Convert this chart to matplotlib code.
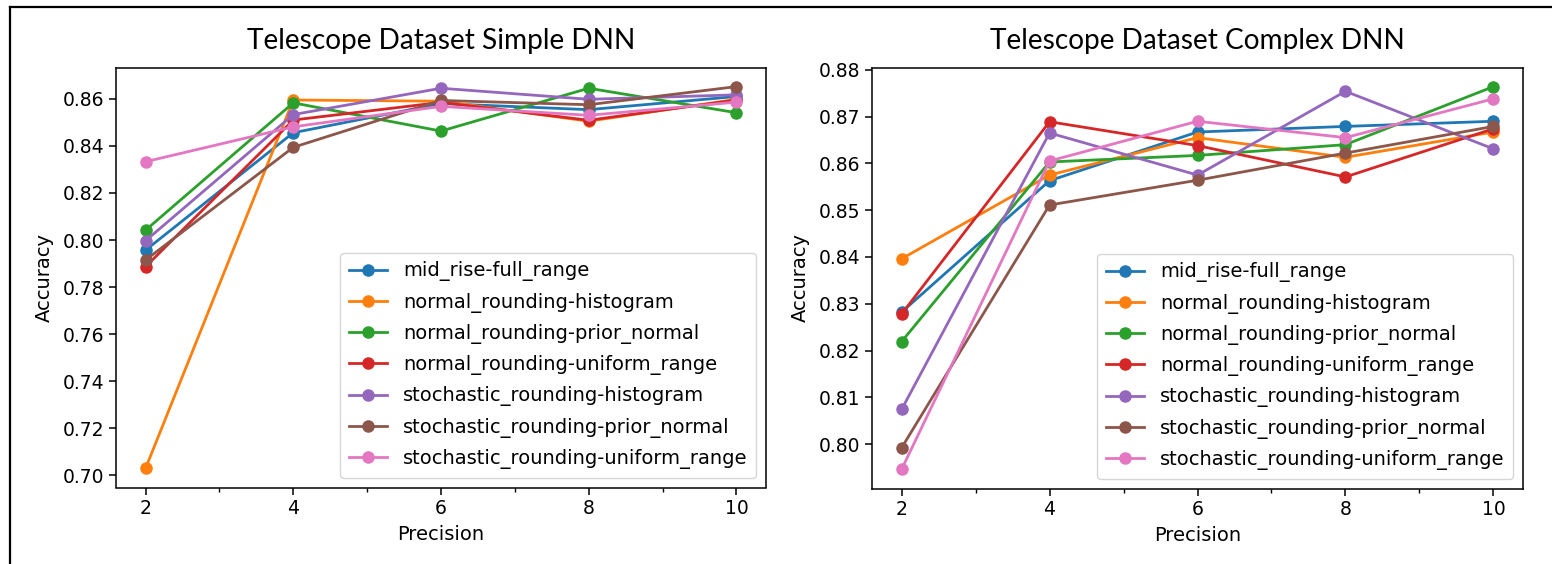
import matplotlib
matplotlib.use("Agg")
import matplotlib.pyplot as plt
from matplotlib.lines import Line2D
from matplotlib.ticker import MultipleLocator

# precision levels (x axis)
precision = [2, 4, 6, 8, 10]

labels = ["mid_rise-full_range",
          "normal_rounding-histogram",
          "normal_rounding-prior_normal",
          "normal_rounding-uniform_range",
          "stochastic_rounding-histogram",
          "stochastic_rounding-prior_normal",
          "stochastic_rounding-uniform_range"]

# accuracies, simple DNN (one list per label)
simple_mid_rise_full = [0.7957, 0.8456, 0.8580, 0.8554, 0.8610]
simple_normal_hist = [0.7030, 0.8595, 0.8590, 0.8505, 0.8598]
simple_normal_prior = [0.8042, 0.8583, 0.8463, 0.8645, 0.8541]
simple_normal_uniform = [0.7887, 0.8510, 0.8585, 0.8509, 0.8595]
simple_stoch_hist = [0.7997, 0.8533, 0.8645, 0.8598, 0.8617]
simple_stoch_prior = [0.7915, 0.8394, 0.8593, 0.8575, 0.8652]
simple_stoch_uniform = [0.8333, 0.8481, 0.8568, 0.8530, 0.8586]

# accuracies, complex DNN
complex_mid_rise_full = [0.8282, 0.8563, 0.8667, 0.8679, 0.8690]
complex_normal_hist = [0.8396, 0.8575, 0.8655, 0.8613, 0.8667]
complex_normal_prior = [0.8219, 0.8603, 0.8617, 0.8640, 0.8764]
complex_normal_uniform = [0.8278, 0.8689, 0.8638, 0.8571, 0.8674]
complex_stoch_hist = [0.8074, 0.8665, 0.8575, 0.8754, 0.8631]
complex_stoch_prior = [0.7992, 0.8511, 0.8564, 0.8622, 0.8679]
complex_stoch_uniform = [0.7946, 0.8605, 0.8690, 0.8655, 0.8738]

simple = [simple_mid_rise_full, simple_normal_hist, simple_normal_prior,
          simple_normal_uniform, simple_stoch_hist, simple_stoch_prior,
          simple_stoch_uniform]
complex_ = [complex_mid_rise_full, complex_normal_hist, complex_normal_prior,
            complex_normal_uniform, complex_stoch_hist, complex_stoch_prior,
            complex_stoch_uniform]

W, H = 1552, 564
fig = plt.figure(figsize=(W / 100, H / 100), dpi=100)
fig.patch.set_facecolor("white")

ax1 = fig.add_axes([116 / W, 1 - 487.5 / H, 650 / W, 420 / H])
ax2 = fig.add_axes([872 / W, 1 - 488.5 / H, 651 / W, 421 / H])

for ax, data, title in [(ax1, simple, "Telescope Dataset Simple DNN"),
                        (ax2, complex_, "Telescope Dataset Complex DNN")]:
    for vals, lab in zip(data, labels):
        ax.plot(precision, vals, marker="o", markersize=8, linewidth=2, label=lab)
    ax.set_title(title, fontsize=20.2, family="Lato", pad=13)
    ax.set_xlabel("Precision", fontsize=14, labelpad=5)
    ax.set_ylabel("Accuracy", fontsize=14, labelpad=6)
    ax.xaxis.set_minor_locator(MultipleLocator(1))
    ax.set_xticks(precision)
    ax.tick_params(labelsize=13.5, length=5, width=1.1)
    ax.tick_params(which="minor", length=3, width=1)
    for s in ax.spines.values():
        s.set_linewidth(1.1)
    ax.legend(loc="lower right", fontsize=14, borderpad=0.45, labelspacing=0.58)

ax2.set_yticks([0.80, 0.81, 0.82, 0.83, 0.84, 0.85, 0.86, 0.87, 0.88])

# screenshot frame
fig.add_artist(Line2D([10 / W, 10 / W], [0, 1 - 6.5 / H], transform=fig.transFigure,
                      color="black", linewidth=1.6))
fig.add_artist(Line2D([10 / W, 1], [1 - 6.5 / H, 1 - 6.5 / H], transform=fig.transFigure,
                      color="black", linewidth=1.6))

fig.savefig("out.png", dpi=100)
